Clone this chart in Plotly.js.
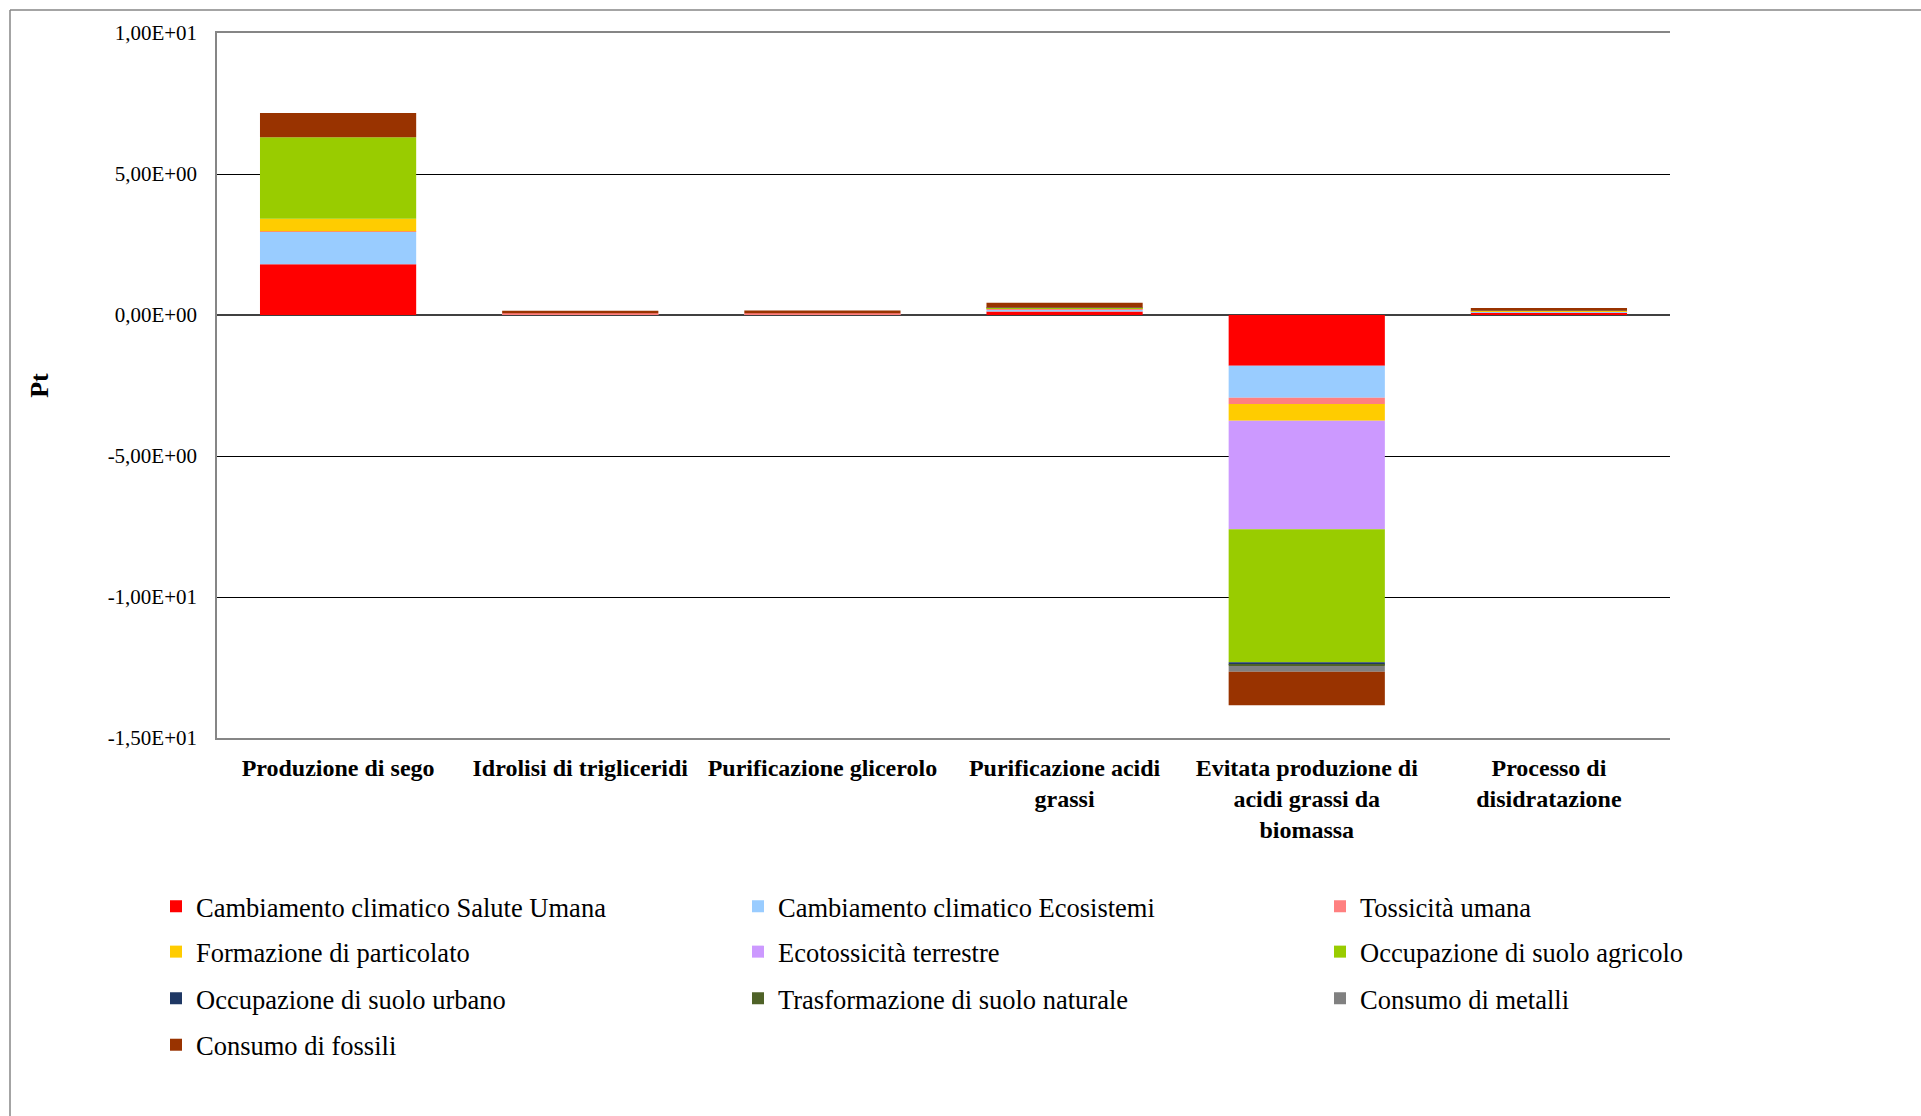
<!DOCTYPE html>
<html>
<head>
<meta charset="utf-8">
<script src="https://cdn.plot.ly/plotly-3.0.1.min.js"></script>
<style>
  html, body { margin: 0; padding: 0; background: #ffffff; }
  #chart { width: 1921px; height: 1116px; }
</style>
</head>
<body>
<div id="chart"></div>
<script>
// ---------- data ----------
const categories = [
  "Produzione di sego",
  "Idrolisi di trigliceridi",
  "Purificazione glicerolo",
  "Purificazione acidi grassi",
  "Evitata produzione di acidi grassi da biomassa",
  "Processo di disidratazione"
];
const categoryLabels = [
  "Produzione di sego",
  "Idrolisi di trigliceridi",
  "Purificazione glicerolo",
  "Purificazione acidi<br>grassi",
  "Evitata produzione di<br>acidi grassi da<br>biomassa",
  "Processo di<br>disidratazione"
];

const seriesNames = [
  "Cambiamento climatico Salute Umana",
  "Cambiamento climatico Ecosistemi",
  "Tossicità umana",
  "Formazione di particolato",
  "Ecotossicità terrestre",
  "Occupazione di suolo agricolo",
  "Occupazione di suolo urbano",
  "Trasformazione di suolo naturale",
  "Consumo di metalli",
  "Consumo di fossili"
];

const cambiamentoSaluteUmana  = [1.80, 0.02, 0.02, 0.12, -1.80, 0.08];
const cambiamentoEcosistemi   = [1.15, 0.01, 0.01, 0.08, -1.13, 0.04];
const tossicitaUmana          = [0.02, 0.03, 0.03, 0.03, -0.23, 0.02];
const formazioneParticolato   = [0.44, 0.00, 0.00, 0.01, -0.59, 0.01];
const ecotossicitaTerrestre   = [0.00, 0.00, 0.00, 0.00, -3.85, 0.00];
const occupazioneAgricolo     = [2.89, 0.00, 0.00, 0.01, -4.71, 0.00];
const occupazioneUrbano       = [0.00, 0.00, 0.00, 0.00, -0.09, 0.00];
const trasformazioneNaturale  = [0.00, 0.00, 0.00, 0.00, -0.05, 0.00];
const consumoMetalli          = [0.00, 0.00, 0.00, 0.02, -0.20, 0.01];
const consumoFossili          = [0.86, 0.09, 0.10, 0.16, -1.19, 0.09];

const seriesValues = [
  cambiamentoSaluteUmana, cambiamentoEcosistemi, tossicitaUmana,
  formazioneParticolato, ecotossicitaTerrestre, occupazioneAgricolo,
  occupazioneUrbano, trasformazioneNaturale, consumoMetalli, consumoFossili
];

const yTickValues = [10, 5, 0, -5, -10, -15];
const yTickLabels = ["1,00E+01", "5,00E+00", "0,00E+00", "-5,00E+00", "-1,00E+01", "-1,50E+01"];

// ---------- styles ----------
const colors = ["#FF0000", "#99CCFF", "#FF8080", "#FFCC00", "#CC99FF",
                "#99CC00", "#1F3864", "#4F6228", "#808080", "#993300"];

const W = 1921, H = 1116;
const M = {l: 217, r: 251, t: 33, b: 378};
const pw = W - M.l - M.r, ph = H - M.t - M.b;
const px2x = px => (px - M.l) / pw;
const py2y = py => (H - M.b - py) / ph;

const serif = "Liberation Serif, Times New Roman, serif";

// legend grid: 3 columns, rows in reading order
const colX = [156, 738, 1320];
const rowY = [906.6, 951.9, 998.5, 1045.0];

const legendKey = i => (i === 0 ? "legend" : "legend" + (i + 1));

const traces = seriesNames.map((name, i) => ({
  type: "bar",
  name: name,
  x: categories,
  y: seriesValues[i],
  marker: {color: colors[i], line: {width: 0}},
  legend: legendKey(i),
  hoverinfo: "skip"
}));

const layout = {
  width: W, height: H,
  margin: M,
  paper_bgcolor: "#ffffff",
  plot_bgcolor: "#ffffff",
  barmode: "relative",
  bargap: 0.355,
  font: {family: serif, color: "#000000"},
  showlegend: true,
  xaxis: {
    type: "category",
    tickvals: categories,
    ticktext: categoryLabels,
    tickfont: {family: serif, size: 24, color: "#000000", weight: "bold"},
    showgrid: false,
    zeroline: false,
    showline: true,
    mirror: true,
    linecolor: "#868686",
    linewidth: 1.5,
    ticks: "",
    ticklabelstandoff: 7,
    fixedrange: true
  },
  yaxis: {
    range: [-15, 10],
    tickvals: yTickValues,
    ticktext: yTickLabels,
    tickfont: {family: serif, size: 21, color: "#000000"},
    showgrid: true,
    gridcolor: "#000000",
    gridwidth: 1,
    zeroline: true,
    zerolinecolor: "#404040",
    zerolinewidth: 1.5,
    showline: true,
    linecolor: "#868686",
    linewidth: 1.5,
    ticks: "",
    ticklabelstandoff: 14,
    title: {text: "Pt", font: {family: serif, size: 26, color: "#000000", weight: "bold"}, standoff: 52},
    fixedrange: true
  },
  shapes: [
    {type: "line", xref: "paper", yref: "paper",
     x0: px2x(10), x1: px2x(1925), y0: py2y(10), y1: py2y(10),
     line: {color: "#868686", width: 1.5}},
    {type: "line", xref: "paper", yref: "paper",
     x0: px2x(10), x1: px2x(10), y0: py2y(10), y1: py2y(1120),
     line: {color: "#868686", width: 1.5}}
  ]
};

seriesNames.forEach((name, i) => {
  layout[legendKey(i)] = {
    orientation: "h",
    xanchor: "left",
    yanchor: "middle",
    x: px2x(colX[i % 3]),
    y: py2y(rowY[Math.floor(i / 3)]),
    font: {family: serif, size: 26.5, color: "#000000"},
    bgcolor: "rgba(0,0,0,0)",
    borderwidth: 0,
    itemclick: false,
    itemdoubleclick: false
  };
});

Plotly.newPlot("chart", traces, layout, {displayModeBar: false});
</script>
</body>
</html>
